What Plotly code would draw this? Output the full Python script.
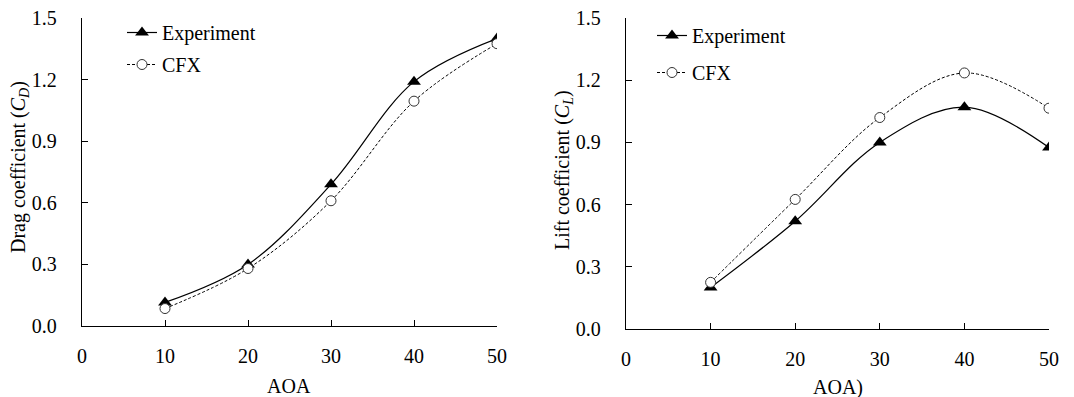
import plotly.graph_objects as go

aoa = [10, 20, 30, 40, 50]
drag_exp = [0.115, 0.30, 0.69, 1.19, 1.40]
drag_cfx = [0.085, 0.28, 0.61, 1.095, 1.375]
lift_exp = [0.20, 0.52, 0.90, 1.07, 0.875]
lift_cfx = [0.225, 0.625, 1.02, 1.235, 1.065]

x_ticks = [0, 10, 20, 30, 40, 50]
y_ticks = [0.0, 0.3, 0.6, 0.9, 1.2, 1.5]

FONT = "Liberation Serif"
FS = 20
OFF = 8  # default page body margin
W, H = 1074 - OFF, 397 - OFF

fig = go.Figure()

def add_pair(exp, cfx, xa, ya, legend):
    fig.add_trace(go.Scatter(
        x=aoa, y=exp, name="Experiment", mode="lines+markers",
        line=dict(color="black", width=1.2, shape="spline", smoothing=1),
        marker=dict(symbol="triangle-up", size=12, color="black"),
        xaxis=xa, yaxis=ya, legend=legend, legendgroup=legend + "a"))
    fig.add_trace(go.Scatter(
        x=aoa, y=cfx, name="CFX", mode="lines+markers",
        line=dict(color="black", width=1, dash="3px,2px", shape="spline", smoothing=1),
        marker=dict(symbol="circle", size=10, color="white",
                    line=dict(color="#333", width=1)),
        xaxis=xa, yaxis=ya, legend=legend, legendgroup=legend + "b"))

add_pair(drag_exp, drag_cfx, "x", "y", "legend")
add_pair(lift_exp, lift_cfx, "x2", "y2", "legend2")

def px_x(p):
    return (p - OFF) / W

def px_y(p):
    return 1 - (p - OFF) / H

xax = dict(range=[0, 50], tickvals=x_ticks, showline=True, linecolor="black", linewidth=1.3,
           ticks="inside", ticklen=6, tickcolor="black", zeroline=False, showgrid=False,
           automargin=False, ticklabelstandoff=12, ticklabeloverflow="allow",
           tickfont=dict(family=FONT, size=FS, color="black"))
yax = dict(range=[0, 1.5], tickvals=y_ticks, tickformat=".1f", showline=True, linecolor="black",
           linewidth=1.3, ticks="inside", ticklen=6, tickcolor="black", zeroline=False,
           showgrid=False, automargin=False, ticklabelstandoff=20, ticklabeloverflow="allow",
           tickfont=dict(family=FONT, size=FS, color="black"))

leg = dict(font=dict(family=FONT, size=FS, color="black"), bgcolor="rgba(0,0,0,0)",
           itemwidth=30, tracegroupgap=3, xanchor="left", yanchor="top")

fig.update_layout(
    width=W, height=H, margin=dict(l=0, r=0, t=0, b=0, autoexpand=False),
    paper_bgcolor="white", plot_bgcolor="white",
    font=dict(family=FONT, size=FS, color="black"),
    xaxis=dict(xax, domain=[px_x(82), px_x(497)], anchor="y"),
    yaxis=dict(yax, domain=[px_y(326), px_y(18)], anchor="x"),
    xaxis2=dict(xax, domain=[px_x(626), px_x(1049)], anchor="y2"),
    yaxis2=dict(yax, domain=[px_y(329), px_y(18)], anchor="x2"),
    legend=dict(leg, x=px_x(122), y=px_y(13)),
    legend2=dict(leg, x=px_x(652), y=px_y(16), tracegroupgap=8),
    showlegend=True,
)

def ann(text, x, y, angle=0):
    fig.add_annotation(text=text, x=px_x(x), y=px_y(y), xref="paper", yref="paper",
                       xanchor="center", yanchor="middle", textangle=angle, showarrow=False,
                       font=dict(family=FONT, size=FS, color="black"))

ann("AOA", 289, 386)
ann("AOA)", 838, 387)
ann("Drag coefficient (<i>C</i><sub><i>D</i></sub>)", 20, 167, -90)
ann("Lift coefficient (<i>C</i><sub><i>L</i></sub>)", 563, 170, -90)

fig.write_html("out.html")
